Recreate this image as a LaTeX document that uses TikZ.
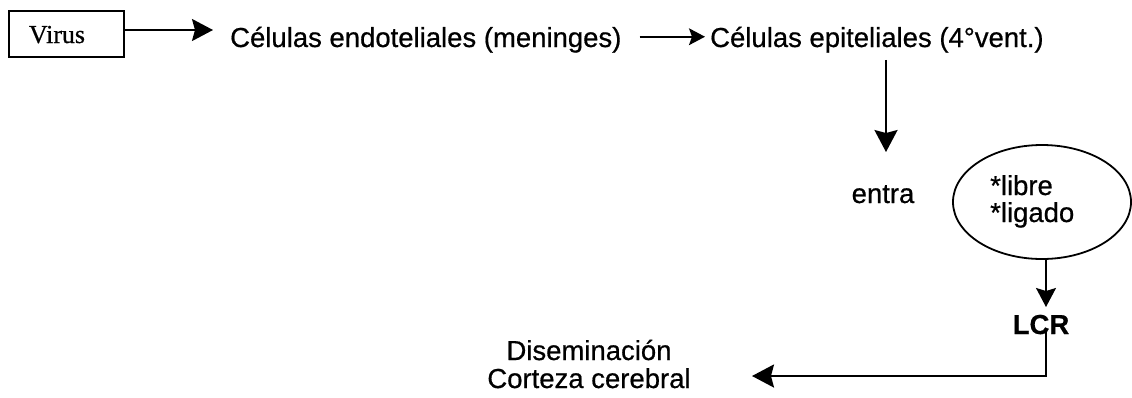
\documentclass[tikz,border=0pt]{standalone}
\usepackage{fontspec}
\setmainfont{Liberation Sans}[FakeBold=0.6]
\newfontfamily\virusfont{Liberation Serif}[FakeBold=0.6]
\usetikzlibrary{arrows.meta,shapes.geometric}
\begin{document}
\begin{tikzpicture}[x=1bp,y=-1bp,
  lbl/.style={font=\fontsize{27.6}{33}\selectfont, inner sep=0pt},
  lblb/.style={font=\fontsize{27.6}{33}\selectfont\bfseries, inner sep=0pt},
  ln/.style={line width=1.8bp, draw=black},
  arr/.style={ln, -{Stealth[length=#1, width=1.05*#1, inset=3bp]}},
  arr/.default=20bp,
  oval/.style={ln, ellipse, minimum width=178bp, minimum height=114bp, inner sep=0pt},
  vbox/.style={ln, rectangle, minimum width=115bp, minimum height=46bp, inner sep=0pt}
]
\useasboundingbox (0,0) rectangle (1132,397);
\fill[white] (0,0) rectangle (1132,397);

% nodes
\node[vbox, anchor=north west] (box) at (8,10) {};
\node[font=\virusfont\fontsize{26}{30}\selectfont, inner sep=0pt, anchor=base] (virus) at (57,43) {Virus};
\node[lbl, anchor=base west] (t1) at (230,47) {Células endoteliales (meninges)};
\node[lbl, anchor=base west] (t2) at (710,47) {Células epiteliales (4°vent.)};
\node[lbl, anchor=base] (entra) at (883,203) {entra};
\node[oval] (ell) at (1042,202) {};
\node[lbl, anchor=base west] (libre) at (990,195) {*libre};
\node[lbl, anchor=base west] (ligado) at (990,222) {*ligado};
\node[lblb, anchor=base] (lcr) at (1041,334) {LCR};
\node[lbl, anchor=base] (dis) at (589,360) {Diseminación};
\node[lbl, anchor=base] (cor) at (589,388) {Corteza cerebral};

% arrow end points
\coordinate (a1) at (213,30);
\coordinate (a3) at (886,152);
\coordinate (a4) at (1046,307);
\coordinate (a5) at (752,376);

% connectors
\draw[arr=21bp] (box.east |- a1) -- (a1);
\draw[arr=16bp, shorten <=18bp, shorten >=5bp] ([yshift=3bp]t1.east) -- ([yshift=3bp]t1.east -| t2.west);
\draw[arr=22bp, shorten <=7bp] (t2.south -| a3) -- (a3);
\draw[arr=19bp] (ell.south -| a4) -- (a4);
\draw[arr=22bp] ([yshift=-4bp]lcr.center -| a4) -- (a4 |- a5) -- (a5);
\end{tikzpicture}
\end{document}
